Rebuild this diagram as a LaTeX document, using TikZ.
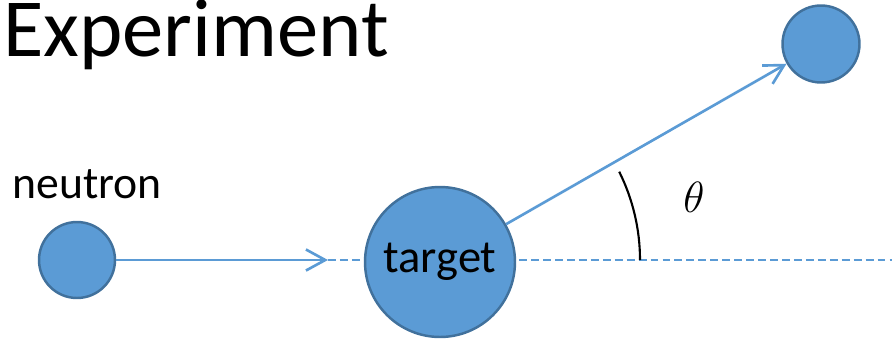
\documentclass[tikz,border=0pt]{standalone}
\usepackage{fontspec}
\setmainfont{Carlito}
\usepackage{tikz}
\usetikzlibrary{positioning,arrows.meta}
\definecolor{ballFill}{HTML}{5B9BD5}
\definecolor{ballEdge}{HTML}{41719C}
\tikzstyle{ball}=[circle, fill=ballFill, draw=ballEdge, line width=1.4pt, inner sep=0pt, text=black]
\tikzstyle{track}=[-{Straight Barb[length=11pt, width=12pt]}, ballFill, line width=1.5pt]
\tikzstyle{beamAxis}=[ballFill, line width=0.6pt, dash pattern=on 4.5pt off 2.3pt]
\tikzstyle{word}=[inner sep=0pt, anchor=base west]

\begin{document}
\begin{tikzpicture}[x=0.02cm, y=-0.02cm]
        \useasboundingbox (0, 0) rectangle (892, 339);

        \coordinate (hit) at (328, 260);
        \coordinate (far) at (892, 260);
        \coordinate (vertex) at (442, 260);

        % beam axis behind the target
        \draw [style={beamAxis}] (hit) -- (far);

        \node [style=ball, minimum size=1.52cm] (neutron) at (77, 260) {};
        \node [style=ball, minimum size=3cm, font=\fontsize{26.5}{30}\selectfont] (target) at (440, 262) {target};
        \node [style=ball, minimum size=1.54cm] (scattered) at (821, 44) {};

        %Labels
        \node [style=word, font=\fontsize{47}{52}\selectfont] (title) at (3, 56) {Experiment};
        \node [style=word, font=\fontsize{26}{30}\selectfont] (nlabel) at (12, 198) {neutron};

        %Tracks
        \draw [style={track}] (neutron.east) -- (hit);
        \draw [style={track}] (target) -- (scattered);

        % scattering angle
        \draw [black, line width=1.2pt] (vertex) ++(0:198) arc (0:-26.5:198);
        \node [font=\fontsize{30}{34}\selectfont] (theta) at (694, 197) {$\theta$};
    \end{tikzpicture}
\end{document}
